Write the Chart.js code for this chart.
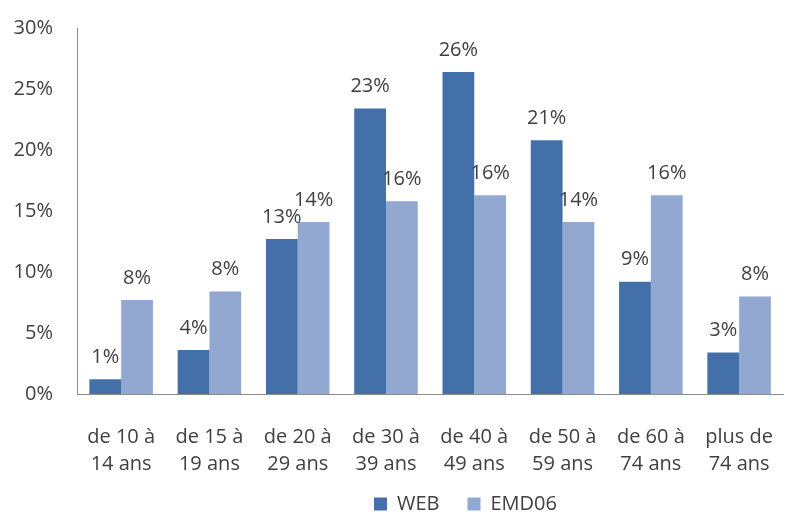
<!DOCTYPE html>
<html>
<head>
<meta charset="utf-8">
<script src="https://cdn.jsdelivr.net/npm/chart.js@4/dist/chart.umd.min.js"></script>
<style>
  html, body { margin: 0; padding: 0; background: #fff; }
  #wrap { width: 795px; height: 512px; }
</style>
</head>
<body>
<div id="wrap"><canvas id="age-chart" width="795" height="512"></canvas></div>
<script>
// Chart data
const categories = [
    ['de 10 à', '14 ans'],
    ['de 15 à', '19 ans'],
    ['de 20 à', '29 ans'],
    ['de 30 à', '39 ans'],
    ['de 40 à', '49 ans'],
    ['de 50 à', '59 ans'],
    ['de 60 à', '74 ans'],
    ['plus de', '74 ans']
];
const webValues = [1.2, 3.6, 12.7, 23.4, 26.4, 20.8, 9.2, 3.4];
const emdValues = [7.7, 8.4, 14.1, 15.8, 16.3, 14.1, 16.3, 8.0];
const yTicks = [0, 5, 10, 15, 20, 25, 30];

const textColor = '#404040';
const fontFamily = '"Open Sans", "DejaVu Sans", sans-serif';

// Value labels above each bar
const barLabels = {
    id: 'barLabels',
    afterDatasetsDraw(chart) {
        const ctx = chart.ctx;
        ctx.save();
        ctx.font = '20px ' + fontFamily;
        ctx.fillStyle = textColor;
        ctx.textAlign = 'center';
        ctx.textBaseline = 'middle';
        chart.data.datasets.forEach((ds, i) => {
            chart.getDatasetMeta(i).data.forEach((bar, j) => {
                ctx.fillText(Math.round(ds.data[j]) + '%', bar.x, bar.y - 22);
            });
        });
        ctx.restore();
    }
};

// Fix legend size / position to match the original layout
const legendPlacement = {
    id: 'legendPlacement',
    beforeUpdate(chart) {
        const legend = chart.legend;
        if (legend && !legend._patched) {
            const origFit = legend.fit.bind(legend);
            legend.fit = function () {
                origFit();
                this.height = 28;
            };
            legend._patched = true;
        }
    },
    afterLayout(chart) {
        const legend = chart.legend;
        legend.left += 68;
        legend.right += 68;
        legend.top = 466;
        legend.bottom = 512;
    }
};

new Chart(document.getElementById('age-chart'), {
    type: 'bar',
    data: {
        labels: categories,
        datasets: [{
            label: 'WEB',
            data: webValues,
            backgroundColor: '#4470A9',
            categoryPercentage: 0.72,
            barPercentage: 1.0
        }, {
            label: 'EMD06',
            data: emdValues,
            backgroundColor: '#93A8D1',
            categoryPercentage: 0.72,
            barPercentage: 1.0
        }]
    },
    options: {
        responsive: false,
        animation: false,
        layout: { padding: { top: 19, left: 0, right: 0, bottom: 0 } },
        plugins: {
            legend: {
                position: 'bottom',
                labels: {
                    color: textColor,
                    font: { size: 20, family: fontFamily },
                    boxWidth: 13,
                    boxHeight: 13,
                    padding: 28
                }
            },
            tooltip: { enabled: false }
        },
        scales: {
            x: {
                grid: { display: false },
                border: { display: true, color: '#8c8c8c', width: 1 },
                ticks: {
                    color: textColor,
                    font: { size: 20, family: fontFamily, lineHeight: 1.35 },
                    padding: 22,
                    maxRotation: 0,
                    autoSkip: false
                },
                afterFit(scale) { scale.height = 90; }
            },
            y: {
                min: 0,
                max: 30,
                afterBuildTicks(scale) {
                    scale.ticks = yTicks.map(v => ({ value: v }));
                },
                grid: { display: false },
                border: { display: true, color: '#8c8c8c', width: 1 },
                ticks: {
                    color: textColor,
                    font: { size: 20, family: fontFamily },
                    padding: 16,
                    callback: v => v + '%'
                },
                afterFit(scale) { scale.width = 77; }
            }
        }
    },
    plugins: [barLabels, legendPlacement]
});
</script>
</body>
</html>
